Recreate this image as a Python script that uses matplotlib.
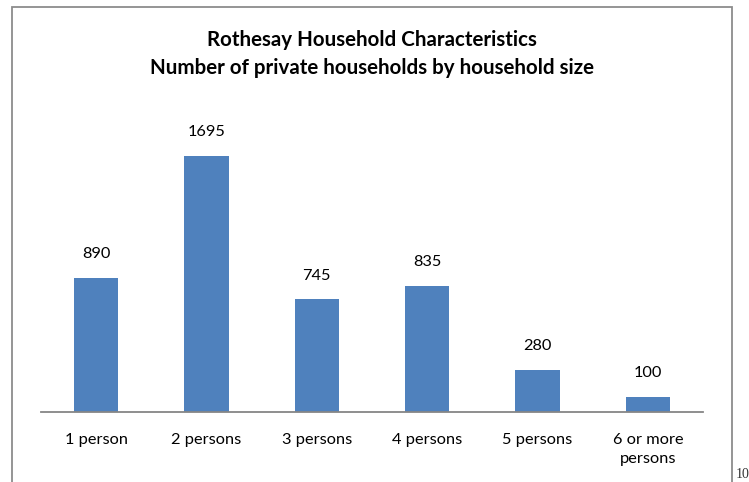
import matplotlib
matplotlib.use("Agg")
import matplotlib.pyplot as plt
from matplotlib.patches import Rectangle

categories = ["1 person", "2 persons", "3 persons", "4 persons", "5 persons", "6 or more\npersons"]
values = [890, 1695, 745, 835, 280, 100]
title_lines = ["Rothesay Household Characteristics", "Number of private households by household size"]

W, H = 749, 482
fig = plt.figure(figsize=(W / 100, H / 100), dpi=100)
fig.patch.set_facecolor("white")

font = "Lato"

# outer border
fig.add_artist(Rectangle((12 / W, -0.05), (732 - 12) / W, 1.05 - 7 / H,
                         transform=fig.transFigure, fill=False,
                         edgecolor="#8c8c8c", linewidth=1.3))

ax_l, ax_r, ax_b, ax_t = 41, 703, 412, 140
ax = fig.add_axes([ax_l / W, 1 - ax_b / H, (ax_r - ax_l) / W, (ax_b - ax_t) / H])
x = list(range(len(categories)))
bars = ax.bar(x, values, width=0.4, color="#4F81BD")
ax.set_xlim(-0.5, len(categories) - 0.5)
ymax = (ax_b - ax_t) / ((412 - 156) / 1695)
ax.set_ylim(0, ymax)
for xi, v in zip(x, values):
    ax.annotate(str(v), (xi, v), xytext=(0, 17), textcoords="offset points",
                ha="center", va="center", fontsize=11.8, family=font, color="black")

ax.set_xticks(x)
ax.set_xticklabels(categories, fontsize=11.8, family=font, linespacing=1.45, va="top")
ax.tick_params(axis="x", length=0, pad=15)
ax.set_yticks([])
for s in ["top", "right", "left"]:
    ax.spines[s].set_visible(False)
ax.spines["bottom"].set_color("#868686")
ax.spines["bottom"].set_linewidth(1.3)

fig.text(372 / W, 1 - 40 / H, title_lines[0], ha="center", va="center",
         fontsize=14.8, fontweight="bold", family=font)
fig.text(372 / W, 1 - 68 / H, title_lines[1], ha="center", va="center",
         fontsize=14.8, fontweight="bold", family=font)

fig.text(736 / W, 1 - 475 / H, "10", ha="left", va="center", fontsize=10,
         family="Liberation Serif", color="#333333")

fig.savefig("out.png", dpi=100)
